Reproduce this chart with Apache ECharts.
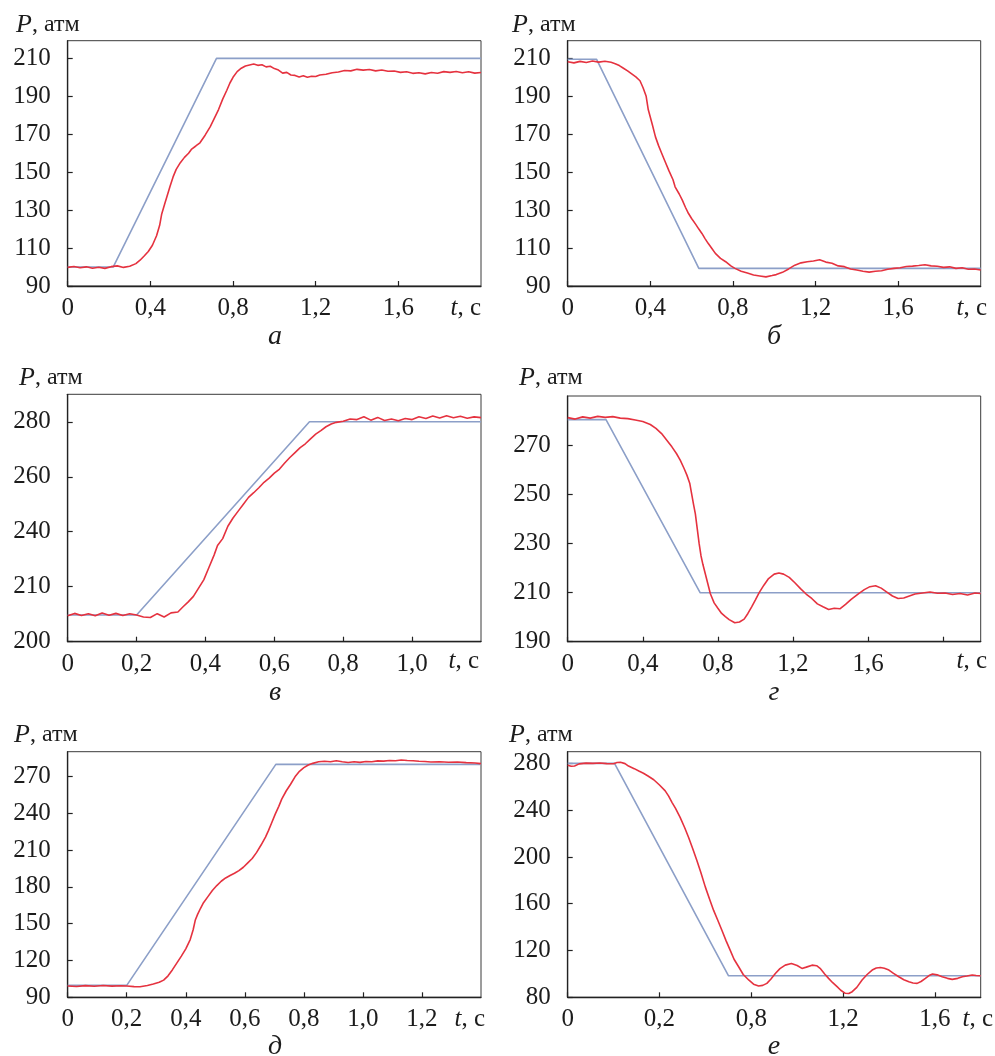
<!DOCTYPE html>
<html>
<head>
<meta charset="utf-8">
<script src="https://cdn.jsdelivr.net/npm/echarts@6/dist/echarts.min.js"></script>
<style>
  html, body { margin: 0; padding: 0; background: #fff; }
  #main { width: 995px; height: 1056px; }
</style>
</head>
<body>
<div id="main"></div>
<script>
// setpoint (blue) and measured pressure (red), [t, P]
const setA = [[0, 100], [0.22, 100], [0.72, 210], [2.0, 210]];
const redA = [[0,99.8],[0.03,100.3],[0.06,99.6],[0.09,100.1],[0.12,99.4],[0.15,99.9],[0.18,99.3],[0.21,100.2],[0.24,100.6],[0.27,99.8],[0.3,100.4],[0.33,101.8],[0.35,103.6],[0.37,105.8],[0.39,108.2],[0.41,111.5],[0.43,116.5],[0.445,122],[0.455,128],[0.47,133.5],[0.48,137],[0.495,142.5],[0.51,147.5],[0.525,151.5],[0.545,155],[0.565,157.8],[0.585,160],[0.6,162.2],[0.62,163.8],[0.64,165.5],[0.665,169.5],[0.69,174],[0.71,178.5],[0.73,183],[0.75,188.5],[0.77,193.2],[0.785,197],[0.8,200],[0.82,203],[0.84,204.8],[0.86,206],[0.88,206.5],[0.9,207],[0.92,206.3],[0.94,206.6],[0.96,205.5],[0.98,205.8],[1.0,204.6],[1.02,203.8],[1.04,202.2],[1.06,202.6],[1.08,201.2],[1.1,201.0],[1.12,200.2],[1.14,200.8],[1.16,200.0],[1.18,200.6],[1.2,200.4],[1.22,201.2],[1.25,201.6],[1.28,202.4],[1.31,202.8],[1.34,203.6],[1.37,203.4],[1.4,204.2],[1.43,203.8],[1.46,204.1],[1.49,203.4],[1.52,203.9],[1.55,203.2],[1.58,203.3],[1.61,202.6],[1.64,202.9],[1.67,202.1],[1.7,202.4],[1.73,201.8],[1.76,202.5],[1.79,202.1],[1.82,203.0],[1.85,202.6],[1.88,203.1],[1.91,202.4],[1.94,202.9],[1.97,202.2],[2.0,202.5]];

const setB = [[0, 209.5], [0.14, 209.5], [0.635, 99.3], [2.0, 99.3]];
const redB = [[0,208.2],[0.03,207.6],[0.06,208.4],[0.09,207.8],[0.12,208.6],[0.15,208.0],[0.18,208.5],[0.21,207.9],[0.23,207.2],[0.25,206.2],[0.27,204.8],[0.29,203.4],[0.31,201.8],[0.33,200.2],[0.35,198.2],[0.365,194.5],[0.38,190],[0.39,183],[0.41,175],[0.425,168.6],[0.44,164],[0.455,160],[0.47,156],[0.49,150.8],[0.51,146],[0.52,142.3],[0.54,138.5],[0.555,135.3],[0.57,131.5],[0.585,128.2],[0.6,125.6],[0.62,122.5],[0.635,120],[0.65,117.7],[0.665,115],[0.68,112.5],[0.7,109.5],[0.715,107.2],[0.74,104.6],[0.765,102.8],[0.79,100.6],[0.81,99.3],[0.84,97.8],[0.87,96.8],[0.9,95.8],[0.93,95.3],[0.96,94.8],[0.99,95.5],[1.01,96.0],[1.04,97.2],[1.07,99],[1.1,101],[1.13,102.2],[1.16,102.8],[1.19,103.2],[1.22,103.8],[1.25,102.6],[1.28,102],[1.31,100.6],[1.34,100.2],[1.37,99],[1.4,98.4],[1.43,97.8],[1.46,97.3],[1.49,97.8],[1.52,98],[1.55,98.8],[1.58,99.3],[1.61,99.6],[1.64,100.3],[1.67,100.5],[1.7,100.8],[1.73,101.2],[1.76,100.6],[1.79,100.4],[1.82,99.8],[1.85,100.1],[1.88,99.3],[1.91,99.6],[1.94,98.8],[1.97,99.0],[2.0,98.4]];

const setV = [[0, 209.7], [0.2, 209.7], [0.702, 280], [1.2, 280]];
const redV = [[0,209.4],[0.02,210.3],[0.04,209.5],[0.06,210.2],[0.08,209.4],[0.1,210.4],[0.12,209.6],[0.14,210.3],[0.16,209.5],[0.18,210.2],[0.2,209.7],[0.22,209.0],[0.24,208.8],[0.26,210.2],[0.28,209.0],[0.3,210.5],[0.32,210.8],[0.335,212.7],[0.35,214.5],[0.365,216.5],[0.38,219.5],[0.395,222.5],[0.41,227],[0.425,231.5],[0.435,235],[0.45,237.5],[0.465,242],[0.48,245],[0.495,247.5],[0.51,250],[0.525,252.5],[0.54,254.2],[0.555,256],[0.57,258],[0.585,259.5],[0.6,261.3],[0.615,262.8],[0.63,265],[0.645,267],[0.66,268.8],[0.675,270.6],[0.69,272],[0.705,273.8],[0.72,275.5],[0.735,276.8],[0.75,278.2],[0.765,279.2],[0.78,279.8],[0.8,280.2],[0.82,281],[0.84,280.8],[0.86,281.8],[0.88,280.6],[0.9,281.6],[0.92,280.5],[0.94,281.0],[0.96,280.4],[0.98,281.2],[1.0,280.8],[1.02,281.8],[1.04,281.2],[1.06,282.1],[1.08,281.4],[1.1,282.2],[1.12,281.5],[1.14,282.0],[1.16,281.3],[1.18,281.8],[1.2,281.5]];

const setG = [[0, 280.4], [0.204, 280.4], [0.706, 209.9], [2.2, 209.9]];
const redG = [[0,281.2],[0.04,280.6],[0.08,281.5],[0.12,281.0],[0.16,281.7],[0.2,281.3],[0.24,281.6],[0.28,281.0],[0.32,280.8],[0.36,280.2],[0.4,279.6],[0.44,278.4],[0.47,276.8],[0.5,274.7],[0.53,271.8],[0.555,269.3],[0.58,266.5],[0.6,263.8],[0.62,260.5],[0.635,257.8],[0.65,254.5],[0.66,250.3],[0.67,246],[0.68,242],[0.69,236],[0.7,230],[0.71,225],[0.72,221.5],[0.74,215.5],[0.76,209.5],[0.78,205.8],[0.8,203.6],[0.82,201.5],[0.84,200.2],[0.86,199],[0.89,197.7],[0.915,198],[0.94,199.2],[0.96,201.5],[0.98,204.2],[1.0,207],[1.02,210],[1.045,213],[1.07,215.7],[1.1,217.5],[1.125,218],[1.15,217.5],[1.18,216.2],[1.21,214],[1.24,211.6],[1.27,209.4],[1.3,207.6],[1.33,205.4],[1.36,204.2],[1.39,203.1],[1.42,203.6],[1.45,203.4],[1.48,205.2],[1.51,207.2],[1.55,209.6],[1.58,211.2],[1.61,212.4],[1.64,212.8],[1.67,211.8],[1.7,210.2],[1.73,208.6],[1.76,207.6],[1.79,207.8],[1.82,208.6],[1.85,209.4],[1.89,209.8],[1.93,210.2],[1.97,209.7],[2.01,209.8],[2.05,209.2],[2.09,209.6],[2.13,209.0],[2.17,209.8],[2.2,209.6]];

const setD = [[0, 99.7], [0.2, 99.7], [0.705, 279.7], [1.4, 279.7]];
const redD = [[0,99.2],[0.03,98.8],[0.06,99.5],[0.09,99.0],[0.12,99.6],[0.15,99.1],[0.18,99.4],[0.2,99.2],[0.225,98.7],[0.245,98.6],[0.27,99.6],[0.29,100.8],[0.31,102.2],[0.325,104],[0.34,107.5],[0.355,112.5],[0.37,118],[0.385,123.5],[0.4,129.5],[0.415,137],[0.425,145],[0.432,152.7],[0.44,157.5],[0.45,162.5],[0.46,167],[0.475,172],[0.49,177],[0.505,181],[0.52,184.5],[0.535,187.2],[0.55,189.2],[0.565,191],[0.58,193.2],[0.595,195.9],[0.61,199.5],[0.625,203],[0.64,208],[0.655,214],[0.67,220.5],[0.68,225.7],[0.69,231.5],[0.703,239.2],[0.715,245.5],[0.725,251.4],[0.74,258],[0.755,263.5],[0.77,269.5],[0.785,274],[0.8,277],[0.815,279.2],[0.83,280.5],[0.85,281.8],[0.87,282.2],[0.89,281.8],[0.91,282.6],[0.93,281.8],[0.95,281.2],[0.97,281.8],[0.99,281.3],[1.01,282.0],[1.03,281.8],[1.05,282.5],[1.07,282.3],[1.09,282.8],[1.11,282.6],[1.13,283.2],[1.15,282.8],[1.17,282.6],[1.19,282.2],[1.21,282.0],[1.23,281.6],[1.26,281.8],[1.29,281.4],[1.32,281.6],[1.35,281.1],[1.38,280.8],[1.4,280.3]];

const setE = [[0, 280], [0.204, 280], [0.701, 98.4], [1.8, 98.4]];
const redE = [[0,278.5],[0.015,277.5],[0.03,277.8],[0.05,279.6],[0.08,280.2],[0.11,280.0],[0.14,280.3],[0.17,279.8],[0.2,279.7],[0.215,280.8],[0.23,281.0],[0.25,279.8],[0.265,277.7],[0.29,275.5],[0.31,273.5],[0.33,271.6],[0.35,269.2],[0.375,266],[0.4,261.5],[0.425,256.5],[0.44,252],[0.455,246.5],[0.47,241.5],[0.49,233.8],[0.51,225],[0.527,216.7],[0.545,207],[0.563,196.9],[0.58,187],[0.6,174.2],[0.62,163],[0.636,154.3],[0.655,145.5],[0.672,137.3],[0.69,128.5],[0.708,120.3],[0.725,112.5],[0.745,106.1],[0.765,99.5],[0.79,94.6],[0.81,91.2],[0.832,89.6],[0.85,90.2],[0.868,91.9],[0.885,95.5],[0.905,100.4],[0.925,104.5],[0.948,107.5],[0.975,108.9],[1.0,107.2],[1.021,104.7],[1.04,105.8],[1.065,107.5],[1.085,107],[1.1,104.8],[1.12,100],[1.137,96.2],[1.155,92.5],[1.174,89.1],[1.19,86],[1.21,83.4],[1.225,83.2],[1.24,84.8],[1.26,88.5],[1.283,94.8],[1.305,99.5],[1.327,103.3],[1.345,105],[1.363,105.5],[1.38,104.8],[1.4,103.3],[1.42,100.5],[1.443,97.6],[1.465,95],[1.487,93.3],[1.505,92.2],[1.523,91.9],[1.54,93.5],[1.559,96.2],[1.575,98.6],[1.59,99.9],[1.61,99.2],[1.632,97.6],[1.655,96.2],[1.676,95.3],[1.7,96.2],[1.72,97.6],[1.74,98.2],[1.763,99],[1.78,98.6],[1.8,98.4]];

// tick values and their printed labels (as printed in the source figure)
const xTicksA = [0, 0.4, 0.8, 1.2, 1.6];
const xLabelsA = ['0', '0,4', '0,8', '1,2', '1,6'];
const yTicksA = [90, 110, 130, 150, 170, 190, 210];
const yLabelsA = ['90', '110', '130', '150', '170', '190', '210'];

const xTicksV = [0, 0.2, 0.4, 0.6, 0.8, 1.0];
const xLabelsV = ['0', '0,2', '0,4', '0,6', '0,8', '1,0'];
const yTicksV = [200, 220, 240, 260, 280];
const yLabelsV = ['200', '210', '240', '260', '280'];

const xTicksG = [0, 0.4, 0.8, 1.2, 1.6, 2.0];
const xLabelsG = ['0', '0,4', '0,8', '1,2', '1,6', ''];
const yTicksG = [190, 210, 230, 250, 270];
const yLabelsG = ['190', '210', '230', '250', '270'];

const xTicksD = [0, 0.2, 0.4, 0.6, 0.8, 1.0, 1.2];
const xLabelsD = ['0', '0,2', '0,4', '0,6', '0,8', '1,0', '1,2'];
const yTicksD = [90, 120, 150, 180, 210, 240, 270];
const yLabelsD = ['90', '120', '150', '180', '210', '240', '270'];

const xTicksE = [0, 0.4, 0.8, 1.2, 1.6];
const xLabelsE = ['0', '0,2', '0,8', '1,2', '1,6'];
const yTicksE = [80, 120, 160, 200, 240, 280];
const yLabelsE = ['80', '120', '160', '200', '240', '280'];

const panelLetters = ['а', 'б', 'в', 'г', 'д', 'е'];

const SERIF = '"Liberation Serif", "DejaVu Serif", serif';
const INK = '#1c1c1c';
const RED = '#e5323f';
const BLUE = '#8c9fc8';
const FS = 25;

const panels = [
  { set: setA, red: redA, xt: xTicksA, xl: xLabelsA, yt: yTicksA, yl: yLabelsA, xmax: 2.0, ymin: 90, ymax: 219.3,
    box: { left: 67.7, top: 40.7, width: 413.3, height: 245.3 }, p: [16, 25], t: [481, 308], let: [275, 337] },
  { set: setB, red: redB, xt: xTicksA, xl: xLabelsA, yt: yTicksA, yl: yLabelsA, xmax: 2.0, ymin: 90, ymax: 219.3,
    box: { left: 567.7, top: 40.7, width: 413, height: 245.3 }, p: [512, 25], t: [987, 308], let: [774, 337] },
  { set: setV, red: redV, xt: xTicksV, xl: xLabelsV, yt: yTicksV, yl: yLabelsV, xmax: 1.2, ymin: 200, ymax: 290,
    box: { left: 67.7, top: 394.3, width: 413.3, height: 247.4 }, p: [19, 378], t: [479, 661], let: [275, 693] },
  { set: setG, red: redG, xt: xTicksG, xl: xLabelsG, yt: yTicksG, yl: yLabelsG, xmax: 2.2, ymin: 190, ymax: 290,
    box: { left: 567.7, top: 396, width: 413, height: 245.7 }, p: [519, 378], t: [987, 661], let: [774, 693] },
  { set: setD, red: redD, xt: xTicksD, xl: xLabelsD, yt: yTicksD, yl: yLabelsD, xmax: 1.4, ymin: 90, ymax: 290,
    box: { left: 67.7, top: 751.7, width: 413.3, height: 245.6 }, p: [14, 735], t: [485, 1019], let: [275, 1047] },
  { set: setE, red: redE, xt: xTicksE, xl: xLabelsE, yt: yTicksE, yl: yLabelsE, xmax: 1.8, ymin: 80, ymax: 290,
    box: { left: 567.7, top: 751.7, width: 413, height: 245.6 }, p: [509, 735], t: [993, 1019], let: [774, 1047] }
];

const chart = echarts.init(document.getElementById('main'), null, { renderer: 'canvas' });

const grid = [], xAxis = [], yAxis = [], series = [], graphic = [];

panels.forEach((pn, i) => {
  grid.push({ ...pn.box, show: true, borderColor: '#3a3a3a', borderWidth: 1, backgroundColor: 'transparent' });
  xAxis.push({
    type: 'value', gridIndex: i, min: 0, max: pn.xmax,
    splitLine: { show: false },
    axisLine: { show: true, lineStyle: { color: '#222', width: 1.3 } },
    axisTick: { show: true, inside: true, length: 5, customValues: pn.xt, lineStyle: { color: '#222', width: 1.2 } },
    axisLabel: {
      customValues: pn.xt, margin: 10, fontFamily: SERIF, fontSize: FS, color: INK,
      formatter: v => pn.xl[pn.xt.findIndex(t => Math.abs(t - v) < 1e-6)] ?? ''
    }
  });
  yAxis.push({
    type: 'value', gridIndex: i, min: pn.ymin, max: pn.ymax,
    splitLine: { show: false },
    axisLine: { show: true, lineStyle: { color: '#222', width: 1.3 } },
    axisTick: { show: true, inside: true, length: 5, customValues: pn.yt, lineStyle: { color: '#222', width: 1.2 } },
    axisLabel: {
      customValues: pn.yt, margin: 17, fontFamily: SERIF, fontSize: FS, color: INK,
      formatter: v => pn.yl[pn.yt.findIndex(t => Math.abs(t - v) < 1e-6)] ?? ''
    }
  });
  series.push({
    type: 'line', xAxisIndex: i, yAxisIndex: i, data: pn.set, symbol: 'none',
    lineStyle: { color: BLUE, width: 1.6 }, z: 2, silent: true, animation: false
  });
  series.push({
    type: 'line', xAxisIndex: i, yAxisIndex: i, data: pn.red, symbol: 'none',
    lineStyle: { color: RED, width: 1.6 }, z: 3, silent: true, animation: false
  });

  graphic.push({
    type: 'text', x: pn.p[0], y: pn.p[1],
    style: {
      text: '{i|P}, атм', fontFamily: SERIF, fontSize: 24, fill: INK, textVerticalAlign: 'middle',
      rich: { i: { fontStyle: 'italic', fontFamily: SERIF, fontSize: 26, fill: INK } }
    }
  });
  graphic.push({
    type: 'text', x: pn.t[0], y: pn.t[1],
    style: {
      text: '{i|t}, с', fontFamily: SERIF, fontSize: FS, fill: INK, textAlign: 'right', textVerticalAlign: 'middle',
      rich: { i: { fontStyle: 'italic', fontFamily: SERIF, fontSize: FS, fill: INK } }
    }
  });
  graphic.push({
    type: 'text', x: pn.let[0], y: pn.let[1],
    style: {
      text: panelLetters[i], fontFamily: SERIF, fontStyle: 'italic', fontSize: 28, fill: INK,
      textAlign: 'center', textVerticalAlign: 'middle'
    }
  });
});

chart.setOption({
  backgroundColor: '#ffffff',
  animation: false,
  grid, xAxis, yAxis, series, graphic
});
</script>
</body>
</html>
